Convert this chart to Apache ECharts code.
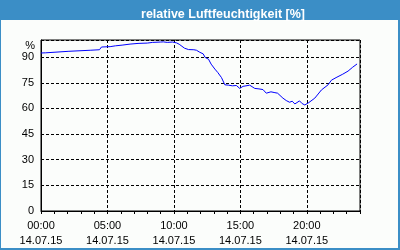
<!DOCTYPE html>
<html>
<head>
<meta charset="utf-8">
<script src="https://cdn.jsdelivr.net/npm/echarts@6/dist/echarts.min.js"></script>
<style>
html,body{margin:0;padding:0;background:#fbfdfb;}
#c{width:400px;height:250px;}
</style>
</head>
<body>
<div id="c"></div>
<script>
var titleText = 'relative Luftfeuchtigkeit [%]';
var dateLabel = '14.07.15';
var yUnit = '%';
// hours of day
var hours = [0, 0.35, 0.4, 2.1, 2.2, 3.7, 4.4, 4.55, 5.2, 5.6, 6.1, 6.7, 7.3, 8.0, 8.4, 9.0, 9.2, 9.5, 9.9, 10.2, 10.4, 10.55, 10.8, 11.1, 11.5, 11.7, 11.95, 12.2, 12.35, 12.6, 12.8, 13.08, 13.3, 13.58, 13.83, 14.1, 14.4, 14.7, 14.95, 15.2, 15.5, 15.7, 16.08, 16.4, 16.7, 16.95, 17.3, 17.6, 17.8, 18.2, 18.45, 18.7, 18.9, 19.1, 19.25, 19.45, 19.65, 19.85, 20.15, 20.6, 21.1, 21.6, 21.85, 22.2, 22.7, 23.1, 23.45, 23.78];
var humidity = [92.4, 92.5, 93.2, 93.4, 93.7, 94.0, 94.3, 95.9, 96.1, 96.6, 97.0, 97.6, 98.0, 98.2, 98.6, 98.8, 98.9, 98.6, 98.8, 98.3, 97.5, 96.6, 95.2, 94.4, 94.3, 94.0, 92.8, 91.9, 89.8, 88.8, 85.9, 83.0, 81.0, 78.0, 73.8, 73.6, 73.2, 73.4, 71.7, 72.9, 73.3, 73.6, 71.7, 71.4, 71.0, 68.9, 69.7, 69.2, 68.9, 66.0, 64.6, 63.6, 64.2, 62.6, 62.6, 64.4, 62.8, 62.0, 63.4, 66.0, 70.8, 73.8, 76.5, 78.0, 80.0, 81.8, 84.1, 86.0];
var yTicks = [0, 15, 30, 45, 60, 75, 90];

var data = hours.map(function (h, i) { return [h, humidity[i]]; });
var chart = echarts.init(document.getElementById('c'), null, {renderer: 'canvas'});
var font = 'Liberation Sans, Arial, sans-serif';
chart.setOption({
  backgroundColor: '#fbfdfb',
  animation: false,
  title: {
    text: titleText,
    left: 218,
    top: 3,
    textAlign: 'center',
    textStyle: {color: '#ffffff', fontSize: 12.5, fontWeight: 'bold', fontFamily: font}
  },
  graphic: [
    {type: 'rect', shape: {x: 0, y: 0, width: 400, height: 20}, style: {fill: '#3b8ec6'}, z: -1},
    {type: 'rect', shape: {x: 0, y: 0, width: 1, height: 250}, style: {fill: '#3b8ec6'}},
    {type: 'rect', shape: {x: 398, y: 0, width: 2, height: 250}, style: {fill: '#3b8ec6'}},
    {type: 'rect', shape: {x: 0, y: 248, width: 400, height: 2}, style: {fill: '#3b8ec6'}},
    {type: 'text', x: 35, y: 46, style: {text: yUnit, fill: '#000', font: '11px ' + font, textAlign: 'right', textVerticalAlign: 'middle'}}
  ],
  grid: {left: 41, top: 40, right: 40, bottom: 39, show: true, borderColor: '#000', borderWidth: 1, backgroundColor: 'transparent'},
  xAxis: {
    type: 'value', min: 0, max: 24, interval: 5,
    axisLine: {lineStyle: {color: '#000', width: 1}},
    axisTick: {show: true, length: 3, lineStyle: {color: '#000'}},
    minorTick: {show: true, splitNumber: 5, length: 3, lineStyle: {color: '#000'}},
    splitLine: {show: true, lineStyle: {color: '#000', type: [3, 2], width: 1}},
    axisLabel: {
      color: '#000', fontSize: 11, fontFamily: font, lineHeight: 15, margin: 7,
      showMaxLabel: false,
      formatter: function (v) {
        if (v >= 24) return '';
        var s = (v < 10 ? '0' : '') + v + ':00';
        return s + '\n' + dateLabel;
      }
    }
  },
  yAxis: {
    type: 'value', min: 0, max: 100, interval: 15,
    axisLine: {show: true, lineStyle: {color: '#000', width: 1}},
    axisTick: {show: false},
    splitLine: {show: true, lineStyle: {color: '#000', type: [3, 2], width: 1}},
    axisLabel: {
      color: '#000', fontSize: 11, fontFamily: font, margin: 7,
      formatter: function (v) { return yTicks.indexOf(v) >= 0 ? String(v) : ''; }
    }
  },
  series: [{
    type: 'line', data: data, showSymbol: false, symbol: 'none',
    lineStyle: {color: '#0000ff', width: 1}
  }]
});
</script>
</body>
</html>
